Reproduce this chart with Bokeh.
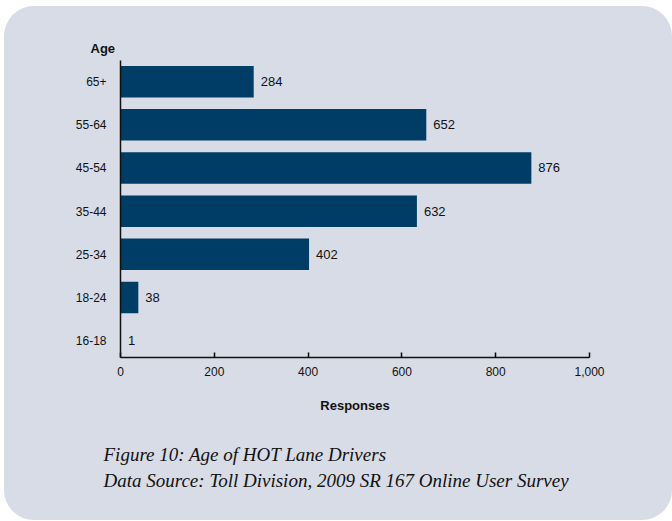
from bokeh.plotting import figure
from bokeh.models import Title, FixedTicker, ColumnDataSource, NumeralTickFormatter
from bokeh.embed import file_html
from bokeh.resources import INLINE

categories = ["16-18", "18-24", "25-34", "35-44", "45-54", "55-64", "65+"]
responses = [1, 38, 402, 632, 876, 652, 284]
x_ticks = [0, 200, 400, 600, 800, 1000]
caption = ["Figure 10: Age of HOT Lane Drivers",
           "Data Source: Toll Division, 2009 SR 167 Online User Survey"]

BG = "#d8dce6"
BAR = "#003d66"

ypos = list(range(len(categories)))
src = ColumnDataSource(dict(y=ypos, v=responses, lab=[str(r) for r in responses]))

p = figure(width=668, height=514, output_backend="svg", toolbar_location=None,
           x_range=(0, 1000), y_range=(-0.39, 6.49),
           min_border_left=116, min_border_right=83, min_border_top=54, min_border_bottom=163)
p.margin = (6, 0, 0, 4)
p.styles = {"border-radius": "30px", "overflow": "hidden", "background-color": BG}
p.background_fill_color = None
p.border_fill_color = None
p.outline_line_color = None
p.grid.visible = False

p.hbar(y="y", right="v", left=0, height=0.73, source=src, color=BAR, line_color=None)
p.text(x="v", y="y", text="lab", source=src, x_offset=7, text_baseline="middle",
       text_align="left", text_font_size="13px", text_color="#111111",
       text_font={"value": "Liberation Sans"})

p.xaxis.ticker = FixedTicker(ticks=x_ticks)
p.xaxis.formatter = NumeralTickFormatter(format="0,0")
p.xaxis.major_tick_in = 5
p.xaxis.major_tick_out = 0
p.xaxis.minor_tick_line_color = None
p.xaxis.axis_line_color = "#111111"
p.xaxis.axis_line_width = 1.5
p.xaxis.major_tick_line_width = 1.5
p.xaxis.major_label_text_font = "Liberation Sans"
p.xaxis.major_label_text_font_size = "12px"
p.xaxis.major_label_text_color = "#111111"
p.xaxis.major_label_standoff = 9
p.xaxis.axis_label = "Responses"
p.xaxis.axis_label_text_font = "Liberation Sans"
p.xaxis.axis_label_text_font_style = "bold"
p.xaxis.axis_label_text_font_size = "13px"
p.xaxis.axis_label_text_color = "#111111"
p.xaxis.axis_label_standoff = 19

p.yaxis.ticker = FixedTicker(ticks=ypos)
p.yaxis.major_label_overrides = {i: c for i, c in zip(ypos, categories)}
p.yaxis.major_tick_line_color = None
p.yaxis.minor_tick_line_color = None
p.yaxis.axis_line_color = "#111111"
p.yaxis.axis_line_width = 1.5
p.yaxis.major_label_text_font = "Liberation Sans"
p.yaxis.major_label_text_font_size = "12px"
p.yaxis.major_label_text_color = "#111111"
p.yaxis.major_label_standoff = 8

p.add_layout(Title(text="Age", align="left", offset=-30, standoff=9,
                   text_font="Liberation Sans", text_font_style="bold",
                   text_font_size="13px", text_color="#111111"), "above")

p.add_layout(Title(text="\n".join(caption), align="left", offset=-17, standoff=53,
                   text_font="Liberation Serif", text_font_style="italic",
                   text_font_size="19px", text_line_height=1.26,
                   text_color="#111111"), "below")

open("out.html", "w").write(file_html(p, INLINE))
